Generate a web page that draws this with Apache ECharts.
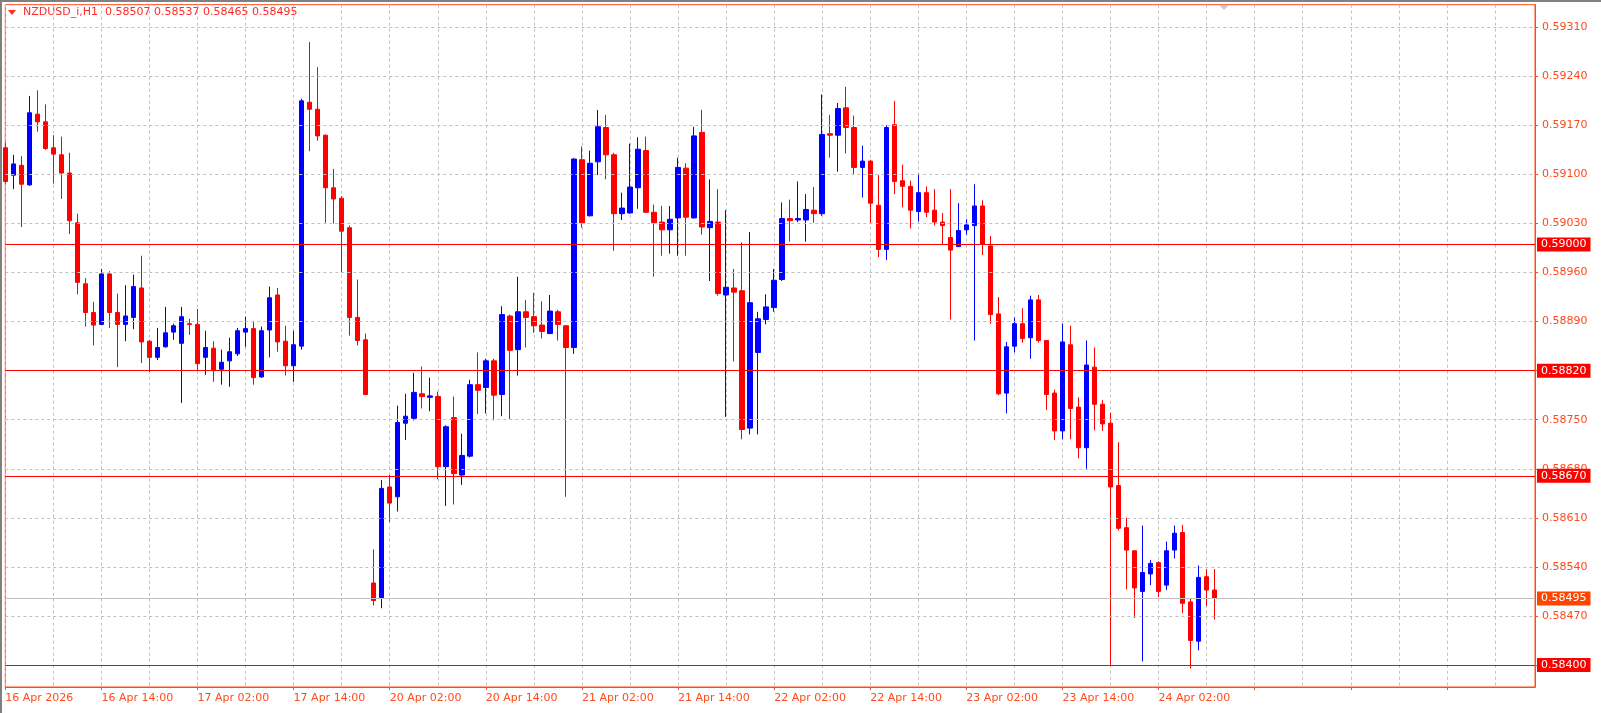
<!DOCTYPE html>
<html><head><meta charset="utf-8">
<script src="https://cdn.jsdelivr.net/npm/echarts@6/dist/echarts.min.js"></script>
<style>html,body{margin:0;padding:0;background:#fff}#c{width:1601px;height:713px}</style>
</head><body><div id="c"></div>
<script>
// Hourly bars 16 Apr 02:00 .. 24 Apr 09:00 (weekend skipped)
const days = [['16 Apr',2,23],['17 Apr',0,23],['20 Apr',0,23],['21 Apr',0,23],['22 Apr',0,23],['23 Apr',0,23],['24 Apr',0,9]];
const categories = [];
days.forEach(d => { for (let h = d[1]; h <= d[2]; h++) categories.push(d[0] + ' ' + String(h).padStart(2,'0') + ':00'); });
const firstLabel = '16 Apr 2026';

const opens = [0.59138,0.59099,0.59113,0.59085,0.59186,0.59175,0.59138,0.59128,0.59102,0.59031,0.58944,0.58903,0.58886,0.58958,0.58903,0.58886,0.58896,0.58938,0.58862,0.58839,0.58854,0.58875,0.58859,0.58887,0.58886,0.58839,0.58852,0.58822,0.58834,0.58844,0.58875,0.58880,0.58811,0.58878,0.58928,0.58862,0.58827,0.58855,0.59203,0.59193,0.59156,0.59081,0.59066,0.59024,0.58896,0.58864,0.58517,0.58496,0.58654,0.58640,0.58745,0.58752,0.58787,0.58782,0.58783,0.58683,0.58753,0.58671,0.58698,0.58800,0.58796,0.58834,0.58786,0.58898,0.58850,0.58904,0.58897,0.58885,0.58873,0.58904,0.58884,0.58853,0.59121,0.59041,0.59118,0.59167,0.59128,0.59044,0.59045,0.59081,0.59134,0.59046,0.59032,0.59021,0.59038,0.59109,0.59038,0.59160,0.59024,0.59032,0.58928,0.58938,0.58934,0.58738,0.58846,0.58893,0.58910,0.58950,0.59037,0.59035,0.59035,0.59049,0.59044,0.59158,0.59156,0.59195,0.59167,0.59110,0.59119,0.59056,0.58993,0.59171,0.59091,0.59083,0.59047,0.59074,0.59049,0.59032,0.59010,0.58997,0.59021,0.59027,0.59055,0.58998,0.58901,0.58788,0.58855,0.58887,0.58867,0.58921,0.58863,0.58788,0.58734,0.58857,0.58768,0.58710,0.58825,0.58772,0.58745,0.58656,0.58596,0.58563,0.58505,0.58530,0.58546,0.58514,0.58564,0.58589,0.58490,0.58434,0.58526,0.58507];
const highs = [0.59145,0.59128,0.59126,0.59212,0.59220,0.59200,0.59156,0.59154,0.59131,0.59044,0.58952,0.58918,0.58965,0.58962,0.58930,0.58942,0.58957,0.58984,0.58864,0.58881,0.58911,0.58887,0.58911,0.58894,0.58908,0.58877,0.58862,0.58850,0.58867,0.58881,0.58897,0.58891,0.58883,0.58940,0.58938,0.58884,0.58877,0.59208,0.59289,0.59253,0.59157,0.59108,0.59069,0.59027,0.58950,0.58873,0.58565,0.58664,0.58671,0.58770,0.58787,0.58817,0.58826,0.58810,0.58790,0.58742,0.58783,0.58730,0.58807,0.58846,0.58837,0.58837,0.58912,0.58900,0.58954,0.58921,0.58931,0.58919,0.58928,0.58907,0.58885,0.59123,0.59140,0.59134,0.59192,0.59185,0.59131,0.59074,0.59144,0.59153,0.59154,0.59057,0.59055,0.59055,0.59124,0.59116,0.59168,0.59192,0.59093,0.59079,0.59049,0.58965,0.59003,0.59018,0.58904,0.58929,0.58965,0.59060,0.59064,0.59090,0.59072,0.59082,0.59214,0.59185,0.59202,0.59225,0.59184,0.59141,0.59121,0.59099,0.59170,0.59205,0.59114,0.59091,0.59101,0.59083,0.59079,0.59045,0.59079,0.59059,0.59036,0.59086,0.59063,0.59012,0.58925,0.58861,0.58896,0.58909,0.58927,0.58928,0.58863,0.58793,0.58887,0.58884,0.58782,0.58863,0.58853,0.58778,0.58760,0.58718,0.58610,0.58563,0.58599,0.58550,0.58548,0.58576,0.58599,0.58600,0.58495,0.58542,0.58537,0.58537];
const lows = [0.59087,0.59079,0.59025,0.59084,0.59161,0.59135,0.59087,0.59065,0.59015,0.58929,0.58883,0.58856,0.58885,0.58881,0.58825,0.58862,0.58879,0.58831,0.58818,0.58835,0.58853,0.58864,0.58774,0.58871,0.58820,0.58814,0.58804,0.58800,0.58797,0.58841,0.58854,0.58800,0.58810,0.58839,0.58847,0.58813,0.58804,0.58850,0.59133,0.59148,0.59031,0.59030,0.58960,0.58870,0.58856,0.58785,0.58485,0.58481,0.58604,0.58619,0.58721,0.58749,0.58766,0.58762,0.58665,0.58627,0.58629,0.58657,0.58696,0.58758,0.58759,0.58749,0.58755,0.58751,0.58813,0.58853,0.58874,0.58866,0.58872,0.58863,0.58640,0.58844,0.59024,0.59040,0.59099,0.59093,0.58991,0.59035,0.59044,0.59051,0.59045,0.58954,0.58984,0.58987,0.58984,0.58984,0.59037,0.59014,0.58948,0.58927,0.58754,0.58833,0.58722,0.58729,0.58729,0.58886,0.58904,0.58948,0.59004,0.59032,0.59004,0.59031,0.59041,0.59124,0.59104,0.59130,0.59100,0.59067,0.59031,0.58982,0.58978,0.59072,0.59053,0.59023,0.59033,0.59039,0.59027,0.59000,0.58893,0.58997,0.59014,0.58863,0.58985,0.58887,0.58785,0.58759,0.58846,0.58860,0.58837,0.58860,0.58764,0.58721,0.58722,0.58722,0.58695,0.58680,0.58735,0.58734,0.58400,0.58592,0.58508,0.58467,0.58405,0.58514,0.58497,0.58507,0.58552,0.58474,0.58395,0.58421,0.58484,0.58465];
const closes = [0.59090,0.59115,0.59086,0.59188,0.59175,0.59137,0.59129,0.59102,0.59034,0.58946,0.58903,0.58885,0.58958,0.58903,0.58886,0.58898,0.58940,0.58861,0.58839,0.58853,0.58874,0.58884,0.58897,0.58886,0.58830,0.58853,0.58820,0.58832,0.58847,0.58877,0.58880,0.58810,0.58877,0.58924,0.58861,0.58827,0.58857,0.59205,0.59193,0.59155,0.59081,0.59065,0.59019,0.58896,0.58863,0.58786,0.58492,0.58652,0.58631,0.58746,0.58755,0.58789,0.58783,0.58784,0.58683,0.58740,0.58673,0.58699,0.58800,0.58792,0.58834,0.58785,0.58900,0.58849,0.58904,0.58896,0.58884,0.58876,0.58905,0.58886,0.58853,0.59122,0.59031,0.59116,0.59168,0.59128,0.59044,0.59052,0.59082,0.59136,0.59046,0.59031,0.59021,0.59036,0.59110,0.59039,0.59155,0.59025,0.59033,0.58930,0.58939,0.58932,0.58736,0.58917,0.58894,0.58911,0.58949,0.59037,0.59034,0.59037,0.59050,0.59044,0.59157,0.59156,0.59194,0.59167,0.59110,0.59119,0.59059,0.58993,0.59167,0.59090,0.59083,0.59049,0.59074,0.59046,0.59032,0.59027,0.58992,0.59020,0.59028,0.59055,0.59000,0.58900,0.58787,0.58854,0.58887,0.58866,0.58921,0.58863,0.58786,0.58734,0.58861,0.58766,0.58710,0.58828,0.58772,0.58744,0.58654,0.58595,0.58564,0.58510,0.58532,0.58545,0.58505,0.58563,0.58588,0.58488,0.58435,0.58525,0.58507,0.58495];

const yTicks = [0.58400,0.58470,0.58540,0.58610,0.58680,0.58750,0.58820,0.58890,0.58960,0.59030,0.59100,0.59170,0.59240,0.59310];
const redLevels = [0.59000,0.58820,0.58670,0.58400];
const lastPrice = 0.58495;
const titleText = 'NZDUSD_i,H1  0.58507 0.58537 0.58465 0.58495';

const N = 192;
const cats = categories.slice();
while (cats.length < N) cats.push('');
const ohlc = opens.map((o,i) => [o, closes[i], lows[i], highs[i]]);

const AX = '#ff4a1c';
const lbl = (bg, txt) => ({show:true, position:'end', distance:2, formatter: txt, backgroundColor:bg, color:'#fff',
  fontFamily:'DejaVu Sans', fontSize:11, padding:[1,4,0,4], lineHeight:13});
const hline = (v, style, label) => [
  {coord:[0, v], lineStyle:style, label: label || {show:false}},
  {coord:[N-1, v]}
];
const markData = [];
yTicks.forEach(v => markData.push(hline(v, {color:'#c0c0c0', type:[3,3], width:1})));
markData.push(hline(lastPrice, {color:'#c0c0c0', type:'solid', width:1}, lbl('#ff4500', lastPrice.toFixed(5))));
redLevels.forEach(v => markData.push(hline(v, {color:'#ff0000', type:'solid', width:1}, lbl('#ff0000', v.toFixed(5)))));

const chart = echarts.init(document.getElementById('c'), null, {renderer:'canvas'});
chart.setOption({
  animation:false,
  backgroundColor:'#fff',
  grid:{left:5.3, right:66, top:4.7, bottom:26, show:true, borderColor:AX, borderWidth:1, backgroundColor:'transparent'},
  xAxis:{type:'category', data:cats, boundaryGap:false,
    axisLine:{show:true, lineStyle:{color:AX}},
    axisTick:{show:true, interval:11, length:3, lineStyle:{color:AX}},
    axisLabel:{interval:11, color:AX, fontFamily:'DejaVu Sans', fontSize:11, align:'left', margin:6,
      formatter:(v,i)=> i===0 ? firstLabel : v},
    splitLine:{show:true, interval:5, lineStyle:{color:'#c0c0c0', type:[3,3]}}},
  yAxis:{type:'value', position:'right', min:0.583686, max:0.593422, scale:true,
    axisLine:{show:true, lineStyle:{color:AX}},
    axisTick:{show:true, length:3, customValues:yTicks, lineStyle:{color:AX}},
    axisLabel:{color:AX, fontFamily:'DejaVu Sans', fontSize:11, margin:7, customValues:yTicks, formatter:v=>v.toFixed(5)},
    splitLine:{show:false}},
  series:[
    {type:'scatter', data:[[0, lastPrice]], symbolSize:0, silent:true, z:1,
      markLine:{silent:true, symbol:'none', animation:false, data:markData}},
    {type:'candlestick', data:ohlc, barWidth:5, clip:false, z:3,
      itemStyle:{color:'#0000ff', color0:'#ff0000', borderColor:'#0000ff', borderColor0:'#ff0000', borderWidth:1}}
  ],
  graphic:[
    {type:'polygon', shape:{points:[[8,10],[16,10],[12,15]]}, style:{fill:'#ff2a2a'}},
    {type:'text', left:23, top:7, style:{text:titleText, fill:'#ff2a2a', font:'11px "DejaVu Sans"'}},
    {type:'polygon', shape:{points:[[1219,5],[1229,5],[1224,10]]}, style:{fill:'#c8c8c8'}},
    {type:'rect', shape:{x:0, y:0, width:1601, height:2}, style:{fill:'#808080'}},
    {type:'rect', shape:{x:0, y:0, width:2, height:713}, style:{fill:'#808080'}}
  ]
});
</script></body></html>
